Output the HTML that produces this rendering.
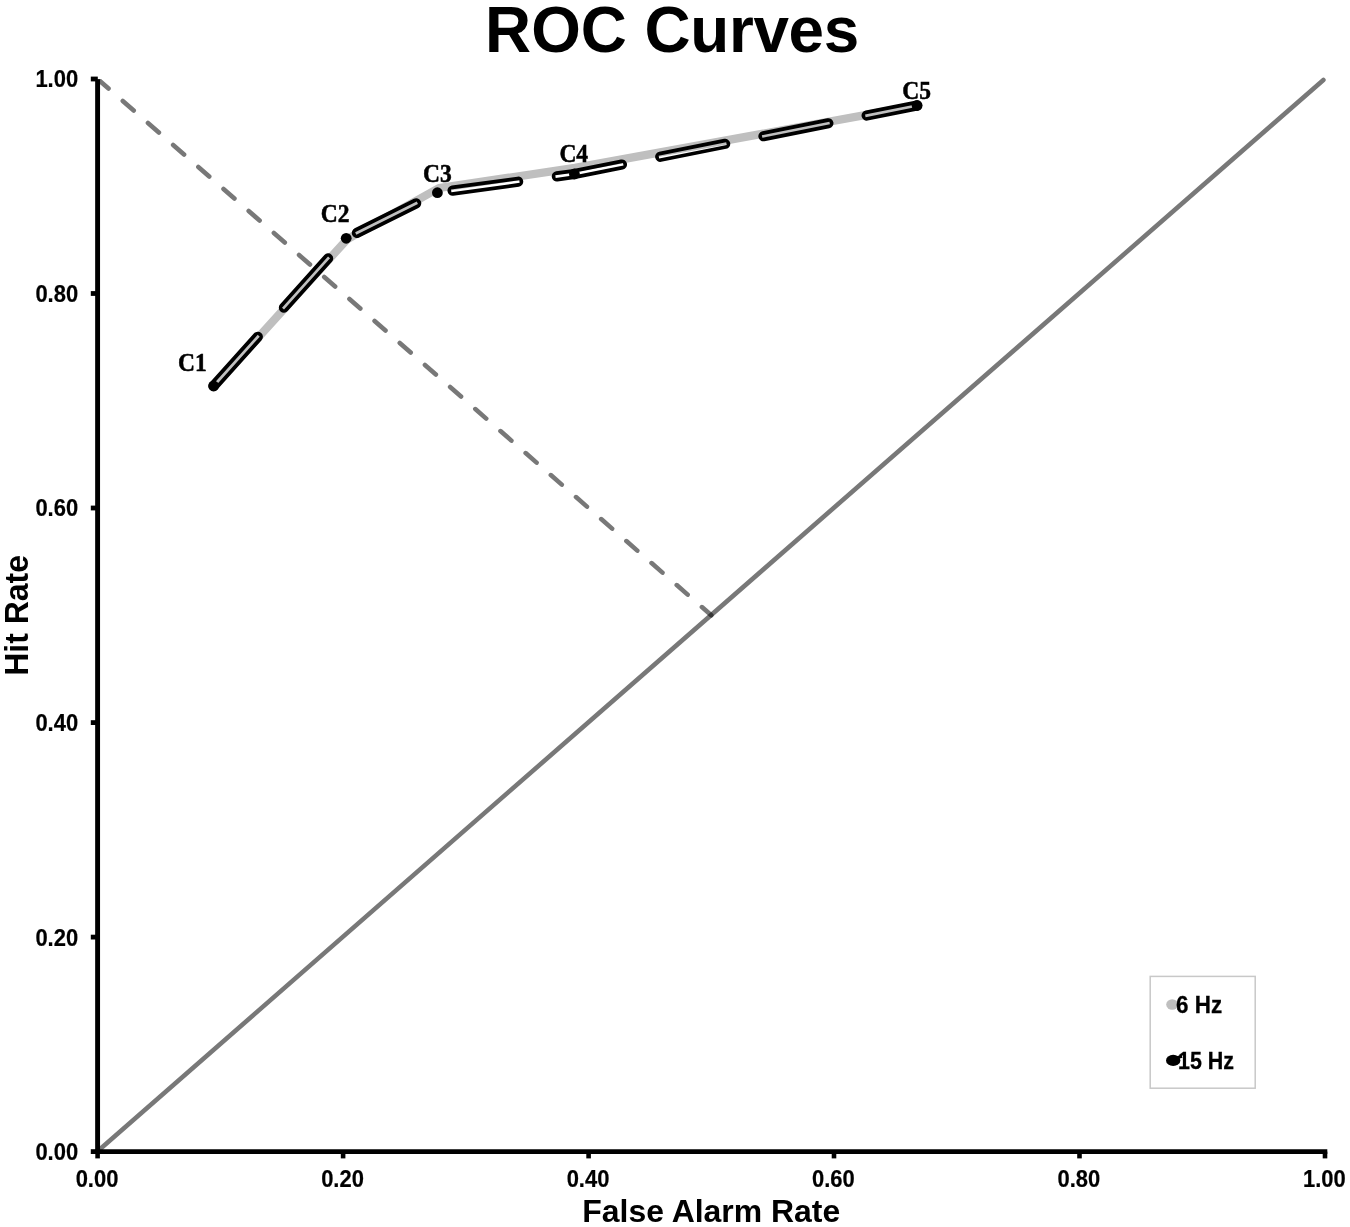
<!DOCTYPE html>
<html lang="en"><head><meta charset="utf-8"><title>ROC Curves</title>
<style>
html,body{margin:0;padding:0;background:#fff;}
body{width:1350px;height:1227px;overflow:hidden;}
svg{display:block;transform:translateZ(0);will-change:transform;filter:blur(0.5px);}
text{fill:#000;}
</style></head><body>
<svg width="1350" height="1227" viewBox="0 0 1350 1227">
<rect width="1350" height="1227" fill="#fff"/>
<defs>
<mask id="hollow" maskUnits="userSpaceOnUse" x="0" y="0" width="1350" height="1227">
<rect width="1350" height="1227" fill="#fff"/>
<polyline points="213.6,386.0 346.2,238.3 437.4,192.7 574.4,174.0 917.1,105.5" fill="none" stroke="#000" stroke-width="2.7" stroke-linejoin="round" stroke-dasharray="68.90 36.35" stroke-dashoffset="1.35"/>
</mask>
<clipPath id="plot"><rect x="97.6" y="78.9" width="1300" height="1072.7"/></clipPath>
</defs>

<text transform="translate(485.06,51.8) scale(0.985,1)" font-size="64.8" font-family="Liberation Sans, Arial, sans-serif" font-weight="bold">ROC <tspan letter-spacing="-0.37">Curves</tspan></text>
<text transform="translate(711.3,1221.6) scale(0.992,1)" text-anchor="middle" font-size="32.2" font-family="Liberation Sans, Arial, sans-serif" font-weight="bold">False Alarm Rate</text>
<text transform="translate(27.6,615.4) rotate(-90) scale(1,1.035)" text-anchor="middle" font-size="32" font-family="Liberation Sans, Arial, sans-serif" font-weight="bold">Hit Rate</text>
<line x1="97.6" y1="1151.2" x2="1323.4" y2="80.0" stroke="#000" stroke-opacity="0.53" stroke-width="4.6" stroke-linecap="round"/>
<line x1="97.6" y1="79.0" x2="711.3" y2="615.3" stroke="#000" stroke-opacity="0.53" stroke-width="4.6" stroke-linecap="round" stroke-dasharray="14.5 18.94" clip-path="url(#plot)"/>
<polyline points="214.0,386.3 347.0,239.4 439.0,188.0 575.0,167.9 917.1,105.6" fill="none" stroke="#bfbfbf" stroke-width="8.2" stroke-linejoin="round" stroke-linecap="round"/>
<polyline points="213.6,386.0 346.2,238.3 437.4,192.7 574.4,174.0 917.1,105.5" fill="none" stroke="#000" stroke-width="10.2" stroke-linejoin="round" stroke-linecap="round" stroke-dasharray="66.20 39.05" mask="url(#hollow)"/>
<circle cx="213.6" cy="386.0" r="5.4" fill="#000"/>
<circle cx="346.2" cy="238.3" r="5.4" fill="#000"/>
<circle cx="437.4" cy="192.7" r="5.4" fill="#000"/>
<circle cx="574.4" cy="174.0" r="5.4" fill="#000"/>
<circle cx="917.1" cy="105.5" r="5.4" fill="#000"/>
<text transform="translate(178.0,371.4) scale(0.98,1.035)" stroke="#000" stroke-width="0.5" font-size="24" font-family="Liberation Serif, Times New Roman, serif" font-weight="bold">C1</text>
<text transform="translate(320.8,221.9) scale(0.98,1.035)" stroke="#000" stroke-width="0.5" font-size="24" font-family="Liberation Serif, Times New Roman, serif" font-weight="bold">C2</text>
<text transform="translate(423.0,181.9) scale(0.98,1.035)" stroke="#000" stroke-width="0.5" font-size="24" font-family="Liberation Serif, Times New Roman, serif" font-weight="bold">C3</text>
<text transform="translate(559.4,162.4) scale(0.98,1.035)" stroke="#000" stroke-width="0.5" font-size="24" font-family="Liberation Serif, Times New Roman, serif" font-weight="bold">C4</text>
<text transform="translate(902.2,99.0) scale(0.98,1.035)" stroke="#000" stroke-width="0.5" font-size="24" font-family="Liberation Serif, Times New Roman, serif" font-weight="bold">C5</text>
<line x1="97.6" y1="79.3" x2="97.6" y2="1153.8999999999999" stroke="#000" stroke-width="4.9"/>
<line x1="95.19999999999999" y1="1151.6" x2="1327.3" y2="1151.6" stroke="#000" stroke-width="4.8"/>
<line x1="90.8" y1="1151.6" x2="97.8" y2="1151.6" stroke="#000" stroke-width="4.8"/>
<line x1="97.6" y1="1151.6" x2="97.6" y2="1158.4" stroke="#000" stroke-width="4.6"/>
<text transform="translate(78.1,1160.0) scale(0.985,1.06)" stroke="#000" stroke-width="0.2" text-anchor="end" font-size="22.3" font-family="Liberation Sans, Arial, sans-serif" font-weight="bold">0.00</text>
<text transform="translate(97.0,1186.8) scale(0.985,1.06)" stroke="#000" stroke-width="0.2" text-anchor="middle" font-size="22.3" font-family="Liberation Sans, Arial, sans-serif" font-weight="bold">0.00</text>
<line x1="90.8" y1="937.1" x2="97.8" y2="937.1" stroke="#000" stroke-width="4.8"/>
<line x1="343.1" y1="1151.6" x2="343.1" y2="1158.4" stroke="#000" stroke-width="4.6"/>
<text transform="translate(78.1,945.5) scale(0.985,1.06)" stroke="#000" stroke-width="0.2" text-anchor="end" font-size="22.3" font-family="Liberation Sans, Arial, sans-serif" font-weight="bold">0.20</text>
<text transform="translate(342.5,1186.8) scale(0.985,1.06)" stroke="#000" stroke-width="0.2" text-anchor="middle" font-size="22.3" font-family="Liberation Sans, Arial, sans-serif" font-weight="bold">0.20</text>
<line x1="90.8" y1="722.6" x2="97.8" y2="722.6" stroke="#000" stroke-width="4.8"/>
<line x1="588.6" y1="1151.6" x2="588.6" y2="1158.4" stroke="#000" stroke-width="4.6"/>
<text transform="translate(78.1,731.0) scale(0.985,1.06)" stroke="#000" stroke-width="0.2" text-anchor="end" font-size="22.3" font-family="Liberation Sans, Arial, sans-serif" font-weight="bold">0.40</text>
<text transform="translate(588.0,1186.8) scale(0.985,1.06)" stroke="#000" stroke-width="0.2" text-anchor="middle" font-size="22.3" font-family="Liberation Sans, Arial, sans-serif" font-weight="bold">0.40</text>
<line x1="90.8" y1="508.0" x2="97.8" y2="508.0" stroke="#000" stroke-width="4.8"/>
<line x1="834.0" y1="1151.6" x2="834.0" y2="1158.4" stroke="#000" stroke-width="4.6"/>
<text transform="translate(78.1,516.4) scale(0.985,1.06)" stroke="#000" stroke-width="0.2" text-anchor="end" font-size="22.3" font-family="Liberation Sans, Arial, sans-serif" font-weight="bold">0.60</text>
<text transform="translate(833.4,1186.8) scale(0.985,1.06)" stroke="#000" stroke-width="0.2" text-anchor="middle" font-size="22.3" font-family="Liberation Sans, Arial, sans-serif" font-weight="bold">0.60</text>
<line x1="90.8" y1="293.5" x2="97.8" y2="293.5" stroke="#000" stroke-width="4.8"/>
<line x1="1079.5" y1="1151.6" x2="1079.5" y2="1158.4" stroke="#000" stroke-width="4.6"/>
<text transform="translate(78.1,301.9) scale(0.985,1.06)" stroke="#000" stroke-width="0.2" text-anchor="end" font-size="22.3" font-family="Liberation Sans, Arial, sans-serif" font-weight="bold">0.80</text>
<text transform="translate(1078.9,1186.8) scale(0.985,1.06)" stroke="#000" stroke-width="0.2" text-anchor="middle" font-size="22.3" font-family="Liberation Sans, Arial, sans-serif" font-weight="bold">0.80</text>
<line x1="90.8" y1="79.0" x2="97.8" y2="79.0" stroke="#000" stroke-width="4.8"/>
<line x1="1325.0" y1="1151.6" x2="1325.0" y2="1158.4" stroke="#000" stroke-width="4.6"/>
<text transform="translate(78.1,87.4) scale(0.985,1.06)" stroke="#000" stroke-width="0.2" text-anchor="end" font-size="22.3" font-family="Liberation Sans, Arial, sans-serif" font-weight="bold">1.00</text>
<text transform="translate(1324.4,1186.8) scale(0.985,1.06)" stroke="#000" stroke-width="0.2" text-anchor="middle" font-size="22.3" font-family="Liberation Sans, Arial, sans-serif" font-weight="bold">1.00</text>
<rect x="1150.2" y="976.4" width="105" height="111.8" fill="#fff" stroke="#c8c8c8" stroke-width="1.5"/>
<ellipse cx="1172.2" cy="1004.5" rx="6" ry="5.2" fill="#bfbfbf"/>
<text transform="translate(1176,1013.1) scale(1.03,1.10)" stroke="#000" stroke-width="0.25" font-size="21.8" font-family="Liberation Sans, Arial, sans-serif" font-weight="bold">6 Hz</text>
<ellipse cx="1173.2" cy="1060.4" rx="7.2" ry="5.6" fill="#000"/>
<line x1="1174" y1="1058.6" x2="1182" y2="1056.2" stroke="#000" stroke-width="3"/>
<text transform="translate(1178.0,1069.2) scale(0.985,1.09)" stroke="#000" stroke-width="0.25" font-size="21.8" font-family="Liberation Sans, Arial, sans-serif" font-weight="bold">15 Hz</text>
</svg></body></html>
